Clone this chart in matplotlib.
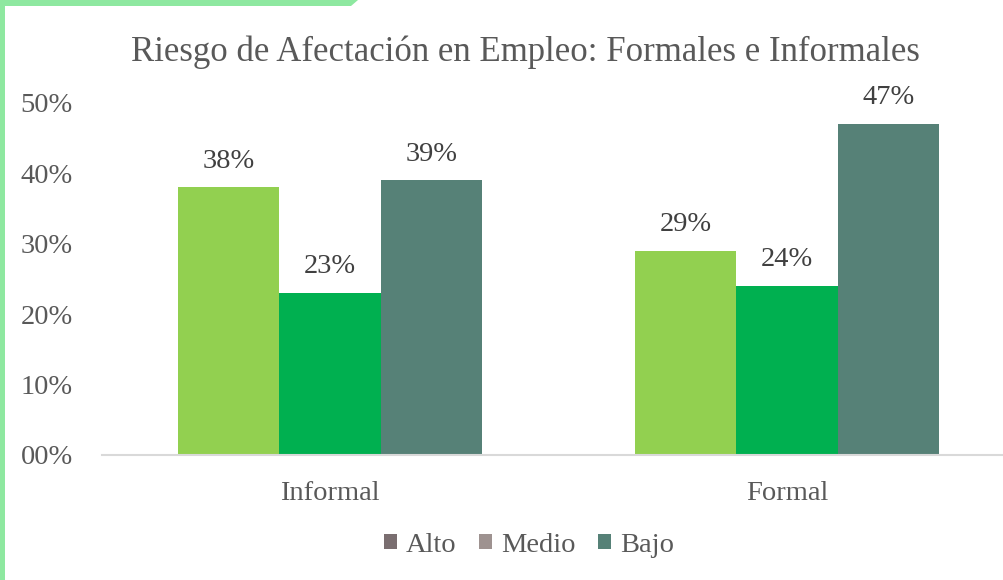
import matplotlib
matplotlib.use("Agg")
import matplotlib.pyplot as plt
from matplotlib.patches import Polygon, Patch
import numpy as np

# Data
categories = ["Informal", "Formal"]
series_names = ["Alto", "Medio", "Bajo"]
alto = [0.38, 0.29]
medio = [0.23, 0.24]
bajo = [0.39, 0.47]
yticks = [0, 0.1, 0.2, 0.3, 0.4, 0.5]
ytick_labels = ["00%", "10%", "20%", "30%", "40%", "50%"]

bar_colors = ["#92d050", "#00b050", "#568177"]
legend_colors = ["#7a6e70", "#9e9290", "#568177"]
text_color = "#595959"

plt.rcParams["font.family"] = ["Liberation Serif", "DejaVu Serif"]

fig = plt.figure(figsize=(10.04, 5.8), dpi=100)
ax = fig.add_axes([102 / 1004, 125 / 580, 902 / 1004, 352 / 580])

x = np.arange(len(categories))
w = 0.222
for i, vals in enumerate([alto, medio, bajo]):
    bars = ax.bar(x + (i - 1) * w, vals, w, color=bar_colors[i], zorder=2)
    ax.bar_label(bars, labels=[f"{v*100:.0f}%" for v in vals],
                 padding=10, fontsize=20.5, color="#404040")

ax.set_xlim(-0.499, 1.475)
ax.set_ylim(0, 0.5)
ax.set_yticks(yticks)
ax.set_yticklabels(ytick_labels, fontsize=20.5, color=text_color)
ax.set_xticks(x)
ax.set_xticklabels(categories, fontsize=20.5, color=text_color)
ax.tick_params(axis="both", length=0)
ax.tick_params(axis="y", pad=21)
ax.tick_params(axis="x", pad=19)
for s in ["top", "right", "left"]:
    ax.spines[s].set_visible(False)
ax.spines["bottom"].set_color("#d9d9d9")
ax.spines["bottom"].set_linewidth(1.5)
ax.spines["bottom"].set_clip_on(False)

fig.text(0.5235, 1 - 52 / 580, "Riesgo de Afectación en Empleo: Formales e Informales",
         ha="center", va="center", fontsize=25, color=text_color)

handles = [Patch(facecolor=c, label=n) for c, n in zip(legend_colors, series_names)]
fig.legend(handles=handles, loc="center", bbox_to_anchor=(0.527, 1 - 545 / 580),
           ncol=3, frameon=False, fontsize=20.5, labelcolor=text_color,
           handlelength=0.46, handleheight=0.46, handletextpad=0.3, columnspacing=0.8)

# green border accent (left edge and top strip with a slanted end)
border = "#8ee8a0"
fig.patches.append(Polygon([[0, 0], [5 / 1004, 0], [5 / 1004, 1], [0, 1]],
                           closed=True, transform=fig.transFigure,
                           facecolor=border, edgecolor="none"))
fig.patches.append(Polygon([[0, 1], [358 / 1004, 1], [351 / 1004, 1 - 6 / 580], [0, 1 - 6 / 580]],
                           closed=True, transform=fig.transFigure,
                           facecolor=border, edgecolor="none"))

fig.savefig("out.png", dpi=100)
